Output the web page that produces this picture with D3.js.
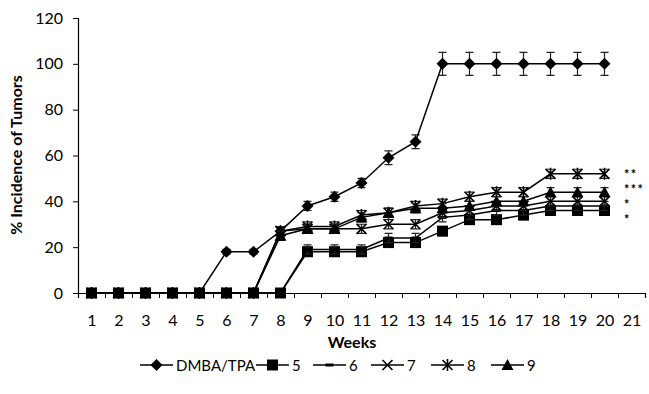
<!DOCTYPE html>
<html><head><meta charset="utf-8">
<script src="https://cdn.jsdelivr.net/npm/d3@7"></script>
<style>
body{margin:0;background:#fff;}
text{font-family:Lato,"Open Sans",sans-serif;}
</style></head>
<body><svg id="c" width="649" height="394"></svg>
<script>
const weeks = d3.range(1, 22);
const weekLabels = weeks.map(String);
const seriesNames = ["DMBA/TPA", "5", "6", "7", "8", "9"];
const dmba = [0,0,0,0,0,18,18,27,38,42,48,59,66,100,100,100,100,100,100,100];
const s5   = [0,0,0,0,0,0,0,0,18,18,18,22,22,27,32,32,34,36,36,36];
const s6   = [0,0,0,0,0,0,0,0,19,19,19,24,24,33,34,36,36,38,38,38];
const s7   = [0,0,0,0,0,0,0,27,28,28,28,30,30,35,36,38,38,40,40,40];
const s8   = [0,0,0,0,0,0,0,27,29,29,34,35,38,39,42,44,44,52,52,52];
const s9   = [0,0,0,0,0,0,0,25,28,28,33,35,37,37,38,40,40,44,44,44];
const errDmba = [0,0,0,0,0,1,1,2,2,2,2,3,3,5,5,5,5,5,5,5];
const errOther = 2;
const yTicks = [0,20,40,60,80,100,120];
const signif = [{v:52.8,t:"**"},{v:46.2,t:"***"},{v:39.7,t:"*"},{v:33.2,t:"*"}];
const markers = ["diamond","square","dash","x","star","triangle"];
const allSeries = [dmba,s5,s6,s7,s8,s9];

const svg = d3.select("#c");
const x = d3.scaleLinear().domain([0.5, 21.5]).range([78, 645]);
const y = d3.scaleLinear().domain([0, 120]).range([293, 18]);

const gy = svg.append("g").attr("transform","translate(78,0)")
  .call(d3.axisLeft(y).tickValues(yTicks).tickSize(5).tickPadding(10));
gy.selectAll("text").attr("font-size",16).attr("fill","#000");
gy.select(".domain").attr("stroke","#000").attr("stroke-width",1.2);
gy.selectAll("line").attr("stroke","#000");

const gx = svg.append("g").attr("transform","translate(0,293)")
  .call(d3.axisBottom(x).tickValues(d3.range(0.5,22,1)).tickSize(5).tickFormat(""));
gx.select(".domain").attr("stroke","#000").attr("stroke-width",1.2);
gx.selectAll("line").attr("stroke","#000");
const gxl = svg.append("g").attr("transform","translate(0,293)")
  .call(d3.axisBottom(x).tickValues(weeks).tickSize(0).tickPadding(22).tickFormat((d,i)=>weekLabels[i]));
gxl.select(".domain").remove();
gxl.selectAll("text").attr("font-size",16).attr("fill","#000");

svg.append("text").attr("x",352).attr("y",348).attr("text-anchor","middle")
  .attr("font-size",16).attr("font-weight","bold").text("Weeks");
svg.append("text").attr("transform","translate(22,155) rotate(-90)").attr("text-anchor","middle")
  .attr("font-size",16).attr("font-weight","bold").text("% Incidence of Tumors");

function drawMarker(g, type, cx, cy){
  if(type==="diamond") g.append("path").attr("d",`M${cx},${cy-6}L${cx+6},${cy}L${cx},${cy+6}L${cx-6},${cy}Z`).attr("fill","#000");
  else if(type==="square") g.append("rect").attr("x",cx-5.5).attr("y",cy-5.5).attr("width",11).attr("height",11).attr("fill","#000");
  else if(type==="dash") g.append("rect").attr("x",cx-4).attr("y",cy-1.5).attr("width",8).attr("height",3).attr("fill","#000");
  else if(type==="x") g.append("path").attr("d",`M${cx-5},${cy-5}L${cx+5},${cy+5}M${cx-5},${cy+5}L${cx+5},${cy-5}`).attr("stroke","#000").attr("stroke-width",1.6);
  else if(type==="star") g.append("path").attr("d",`M${cx-5},${cy-5}L${cx+5},${cy+5}M${cx-5},${cy+5}L${cx+5},${cy-5}M${cx},${cy-6}L${cx},${cy+6}`).attr("stroke","#000").attr("stroke-width",1.6);
  else if(type==="triangle") g.append("path").attr("d",`M${cx},${cy-6}L${cx+6},${cy+5}L${cx-6},${cy+5}Z`).attr("fill","#000");
}

const line = d3.line().x((d,i)=>x(i+1)).y(d=>y(d));
allSeries.forEach((s,k)=>{
  const g = svg.append("g");
  const err = k===0 ? errDmba : s.map(v=> v>0 ? errOther : 0);
  s.forEach((v,i)=>{
    const e = err[i]; if(!e) return;
    const cx = x(i+1);
    g.append("path").attr("d",`M${cx},${y(v+e)}L${cx},${y(v-e)}M${cx-4},${y(v+e)}L${cx+4},${y(v+e)}M${cx-4},${y(v-e)}L${cx+4},${y(v-e)}`)
      .attr("stroke","#222").attr("stroke-width",1.2).attr("fill","none");
  });
  g.append("path").datum(s).attr("d",line).attr("fill","none").attr("stroke","#000").attr("stroke-width",1.5);
  s.forEach((v,i)=>drawMarker(g, markers[k], x(i+1), y(v)));
});

// significance markers
signif.forEach(d=>{
  svg.append("text").attr("x",624).attr("y",y(d.v)+7)
    .attr("font-family","'DejaVu Sans', sans-serif").attr("font-weight","bold")
    .attr("font-size",12.5).attr("letter-spacing",1.5).attr("fill","#000").text(d.t);
});

const legX = [140, 256, 313, 371, 431, 491];
const legW = 33;
seriesNames.forEach((n,k)=>{
  const g = svg.append("g");
  const lx = legX[k], ly = 365;
  g.append("line").attr("x1",lx).attr("x2",lx+legW).attr("y1",ly).attr("y2",ly).attr("stroke","#000").attr("stroke-width",1.5);
  drawMarker(g, markers[k], lx+legW/2, ly);
  g.append("text").attr("x",lx+legW+3).attr("y",ly+6).attr("font-size",15).text(n);
});
</script></body></html>
